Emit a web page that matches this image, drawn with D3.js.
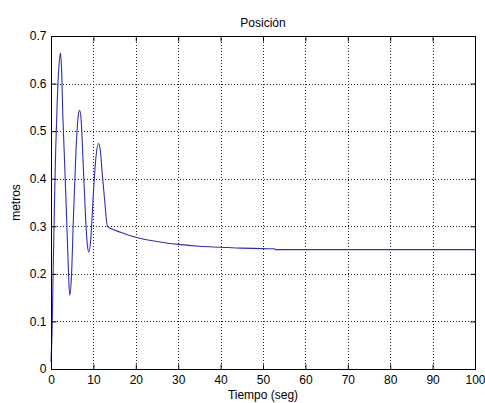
<!DOCTYPE html>
<html>
<head>
<meta charset="utf-8">
<script src="https://cdn.jsdelivr.net/npm/d3@7"></script>
<style>
  body { margin: 0; background: #fff; }
  svg { display: block; font-family: "Liberation Sans", Arial, sans-serif; }
</style>
</head>
<body>
<svg id="chart"></svg>
<script>
// tiempo (seg) y posicion (metros)
let tiempo = [0, 0.25, 0.5, 0.8, 1.1, 1.5, 1.9, 2.25, 2.5, 2.8, 3.1, 3.6, 4.1, 4.4,
  4.8, 5.3, 5.9, 6.4, 6.75, 7.1, 7.6, 8.2, 8.6, 8.95, 9.4, 10.0, 10.6, 11.2,
  11.6, 12.1, 12.7, 13.3, 15, 17.5, 20, 25, 30, 35, 40, 45, 50, 52.7, 52.9,
  60, 70, 80, 90, 100];
let posicion = [0.015, 0.08, 0.2, 0.34, 0.46, 0.57, 0.64, 0.664, 0.63, 0.53, 0.46, 0.34, 0.21, 0.155,
  0.19, 0.32, 0.46, 0.53, 0.544, 0.525, 0.43, 0.31, 0.258, 0.246, 0.275, 0.37, 0.445, 0.474,
  0.462, 0.41, 0.35, 0.3, 0.292, 0.284, 0.277, 0.268, 0.262, 0.258, 0.256, 0.254, 0.253, 0.2528, 0.251,
  0.251, 0.251, 0.251, 0.251, 0.251];

let xTicks = [0, 10, 20, 30, 40, 50, 60, 70, 80, 90, 100];
let yTicks = [0, 0.1, 0.2, 0.3, 0.4, 0.5, 0.6, 0.7];

let width = 485;
let height = 403;
let mLeft = 51, mRight = 475, mTop = 36, mBottom = 369;

let svg = d3.select("#chart").attr("width", width).attr("height", height);

let xScale = d3.scaleLinear().domain([0, 100]).range([mLeft, mRight]);
let yScale = d3.scaleLinear().domain([0, 0.7]).range([mBottom, mTop]);

// grid
let grid = svg.append("g")
  .attr("stroke", "#222")
  .attr("stroke-width", 1)
  .attr("stroke-dasharray", "1,2");

grid.selectAll(".vg")
  .data(xTicks.slice(1, -1))
  .enter()
  .append("line")
  .attr("x1", (d) => Math.round(xScale(d)) + 0.5)
  .attr("x2", (d) => Math.round(xScale(d)) + 0.5)
  .attr("y1", mTop)
  .attr("y2", mBottom);

grid.selectAll(".hg")
  .data(yTicks.slice(1, -1))
  .enter()
  .append("line")
  .attr("y1", (d) => Math.round(yScale(d)) + 0.5)
  .attr("y2", (d) => Math.round(yScale(d)) + 0.5)
  .attr("x1", mLeft)
  .attr("x2", mRight);

// curva
let line = d3.line()
  .x((d, i) => xScale(tiempo[i]))
  .y((d) => yScale(d))
  .curve(d3.curveMonotoneX);

svg.append("path")
  .datum(posicion)
  .attr("fill", "none")
  .attr("stroke", "#3030b0")
  .attr("stroke-width", 1.1)
  .attr("d", line);

// ejes (ticks hacia adentro, en los cuatro lados)
let xAxis = d3.axisBottom(xScale).tickValues(xTicks).tickSizeInner(-5).tickSizeOuter(0).tickPadding(6);
let yAxis = d3.axisLeft(yScale).tickValues(yTicks).tickSizeInner(-5).tickSizeOuter(0).tickPadding(5)
  .tickFormat((d) => d === 0 ? "0" : d3.format(".1f")(d));

svg.append("g")
  .attr("transform", "translate(0," + (mBottom + 0.5) + ")")
  .call(xAxis);
svg.append("g")
  .attr("transform", "translate(" + (mLeft + 0.5) + ",0)")
  .call(yAxis);

svg.append("g")
  .attr("transform", "translate(0," + (mTop + 0.5) + ")")
  .call(d3.axisTop(xScale).tickValues(xTicks).tickSizeInner(-5).tickSizeOuter(0).tickFormat(""));
svg.append("g")
  .attr("transform", "translate(" + (mRight + 0.5) + ",0)")
  .call(d3.axisRight(yScale).tickValues(yTicks).tickSizeInner(-5).tickSizeOuter(0).tickFormat(""));

svg.selectAll(".domain").remove();
svg.selectAll(".tick line").attr("stroke", "#000");
svg.selectAll(".tick text").attr("fill", "#000").style("font-size", "12px")
  .style("font-family", "'Liberation Sans', Arial, sans-serif");

// caja
svg.append("rect")
  .attr("x", mLeft + 0.5)
  .attr("y", mTop + 0.5)
  .attr("width", mRight - mLeft)
  .attr("height", mBottom - mTop)
  .attr("fill", "none")
  .attr("stroke", "#000");

// textos
svg.append("text")
  .attr("x", (mLeft + mRight) / 2)
  .attr("y", 27)
  .attr("text-anchor", "middle")
  .style("font-size", "12px")
  .text("Posición");

svg.append("text")
  .attr("x", (mLeft + mRight) / 2)
  .attr("y", 399)
  .attr("text-anchor", "middle")
  .style("font-size", "12px")
  .text("Tiempo (seg)");

svg.append("text")
  .attr("transform", "translate(20," + ((mTop + mBottom) / 2) + ") rotate(-90)")
  .attr("text-anchor", "middle")
  .style("font-size", "12px")
  .text("metros");
</script>
</body>
</html>
